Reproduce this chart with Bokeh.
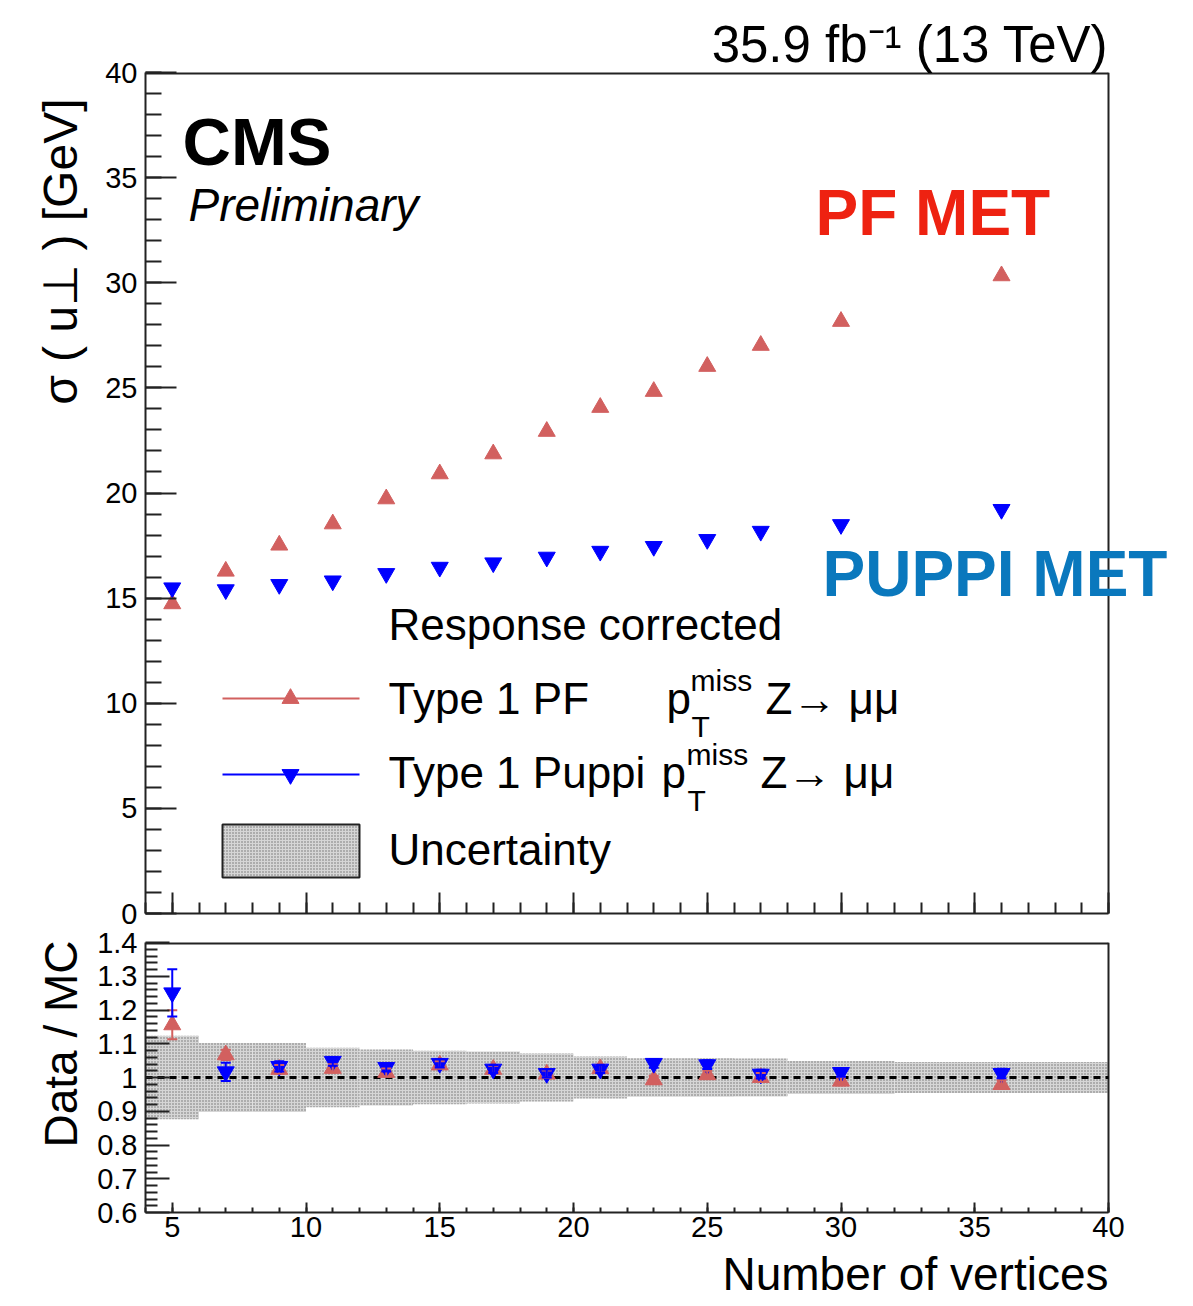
import math
import numpy as np
from bokeh.plotting import figure
from bokeh.layouts import column
from bokeh.models import (Range1d, SingleIntervalTicker, FixedTicker, Label, Title,
                          Whisker, TeeHead, ColumnDataSource, CustomJSTickFormatter)
from bokeh.embed import file_html
from bokeh.resources import INLINE

# ---------------- data ----------------
n_vertices = [5, 7, 9, 11, 13, 15, 17, 19, 21, 23, 25, 27, 30, 36]
sigma_pf = [14.73, 16.28, 17.52, 18.53, 19.72, 20.91, 21.86, 22.93, 24.07, 24.83, 26.02, 27.02, 28.16, 30.33]
sigma_puppi = [15.49, 15.40, 15.65, 15.82, 16.17, 16.47, 16.68, 16.95, 17.23, 17.46, 17.79, 18.18, 18.50, 19.22]

ratio_pf = [1.156, 1.067, 1.024, 1.027, 1.015, 1.037, 1.024, 1.010, 1.026, 0.993, 1.008, 1.000, 0.989, 0.979]
ratio_pf_err = [0.043, 0.015, 0.013, 0.012, 0.012, 0.011, 0.011, 0.011, 0.012, 0.012, 0.012, 0.013, 0.012, 0.013]
ratio_puppi = [1.251, 1.017, 1.033, 1.048, 1.030, 1.042, 1.025, 1.012, 1.025, 1.042, 1.038, 1.010, 1.015, 1.012]
ratio_puppi_err = [0.070, 0.027, 0.015, 0.013, 0.012, 0.012, 0.012, 0.012, 0.012, 0.013, 0.013, 0.013, 0.013, 0.014]

band_edges = [4, 6, 8, 10, 12, 14, 16, 18, 20, 22, 24, 26, 28, 32, 40]
band_unc = [0.124, 0.102, 0.102, 0.088, 0.083, 0.079, 0.077, 0.071, 0.062, 0.057, 0.057, 0.056, 0.049, 0.046]

ratio_ticks = [0.6, 0.7, 0.8, 0.9, 1.0, 1.1, 1.2, 1.3, 1.4]

# ---------------- layout constants ----------------
W = 1193
FL, FR = 145, 1108          # visible box left / right (px)
FT, FB = 72, 913            # top box top / bottom (px)
RT, RB = 942, 1212          # ratio box top / bottom (px)
H_TOTAL = 1306
XMIN, XMAX = 4, 40
YMIN, YMAX = 0, 40
RMIN, RMAX = 0.6, 1.4
PXU = (FR - FL) / (XMAX - XMIN)   # px per x unit
XMAX_EXT = XMAX + (W - FR) / PXU  # frames run to the canvas edge (texts are not cut)
FONT = "Liberation Sans"
RED_MK = "#d2605f"
BLUE_MK = "#0000ff"
FRAME_C = "#222222"
BAND_FILL = "#d6d6d6"
BAND_DOT = "#707070"
BASE_SHIFT = 0.38   # Label alphabetic baseline correction (em)


def xd(px):
    return XMIN + (px - FL) / PXU


def yd(py):
    return YMIN + (FB - py) * (YMAX - YMIN) / (FB - FT)


def style_axes(p):
    p.xgrid.visible = False
    p.ygrid.visible = False
    p.background_fill_color = "white"
    p.border_fill_color = "white"
    p.outline_line_color = None
    p.min_border_left = FL
    p.min_border_right = 0
    for ax in (p.xaxis[0], p.yaxis[0]):
        ax.axis_line_width = 2
        ax.axis_line_color = FRAME_C
        ax.major_tick_line_width = 2
        ax.minor_tick_line_width = 2
        ax.major_tick_line_color = FRAME_C
        ax.minor_tick_line_color = FRAME_C
        ax.major_tick_out = 0
        ax.minor_tick_out = 0
        ax.major_label_text_font = FONT
        ax.major_label_text_color = "black"
    p.xaxis.bounds = (XMIN, XMAX)
    p.xaxis.ticker = SingleIntervalTicker(interval=5, num_minor_ticks=5)


def add_title(fig, text, size, loc, align, offset=0, standoff=10, style_="normal"):
    fig.add_layout(Title(text=text, align=align, offset=offset, standoff=standoff,
                         text_font=FONT, text_font_size=f"{size}px",
                         text_font_style=style_, text_color="black"), loc)


def lab(p, x_px, base_py, text, size, color="black", style_="normal", align="left"):
    p.add_layout(Label(x=xd(x_px), y=yd(base_py - BASE_SHIFT * size), text=text,
                       text_font=FONT, text_font_size=f"{size}px",
                       text_color=color, text_font_style=style_, text_align=align,
                       text_baseline="alphabetic"))


# ---------------- top panel ----------------
top_h = FB + 15
p = figure(width=W, height=top_h, output_backend="svg", toolbar_location=None,
           x_range=Range1d(XMIN, XMAX_EXT), y_range=Range1d(YMIN, YMAX))
style_axes(p)
p.min_border_top = FT
p.min_border_bottom = top_h - FB
p.xaxis.formatter = CustomJSTickFormatter(code="return '';")
p.xaxis.major_label_text_font_size = "1px"
p.xaxis.major_label_standoff = 0
p.xaxis.major_tick_in = 21
p.xaxis.minor_tick_in = 11
p.yaxis.ticker = SingleIntervalTicker(interval=5, num_minor_ticks=5)
p.yaxis.major_label_text_font_size = "29px"
p.yaxis.major_label_standoff = 8
p.yaxis.major_tick_in = 31
p.yaxis.minor_tick_in = 16

# box borders (top and right)
p.segment(x0=[XMIN, XMAX], y0=[YMAX, YMIN], x1=[XMAX, XMAX], y1=[YMAX, YMAX],
          line_color=FRAME_C, line_width=[4, 2])

src_top = ColumnDataSource(dict(x=n_vertices, pf=sigma_pf, puppi=sigma_puppi))
p.scatter("x", "pf", source=src_top, marker="triangle", size=17,
          fill_color=RED_MK, line_color=RED_MK)
p.scatter("x", "puppi", source=src_top, marker="inverted_triangle", size=17,
          fill_color=BLUE_MK, line_color=BLUE_MK)

# titles outside the box
p.title.text = "35.9 fb⁻¹ (13 TeV)"
p.title.align = "right"
p.title.offset = W - FR
p.title.standoff = 0
p.title.text_font = FONT
p.title.text_font_size = "51px"
p.title.text_font_style = "normal"
p.title.text_color = "black"
add_title(p, "σ ( u⊥ ) [GeV]", 48, "left", "right", offset=26, standoff=32)

# in-box texts
lab(p, 182, 166, "CMS", 67, style_="bold")
lab(p, 188, 222, "Preliminary", 46, style_="italic")
lab(p, 815, 237, "PF MET", 64, color="#ee2211", style_="bold")
lab(p, 822, 598, "PUPPI MET", 64, color="#0a78bd", style_="bold")

# legend
LEG_FS = 44
SUB_FS = 30
lab(p, 388, 641, "Response corrected", LEG_FS)
p.line([xd(222), xd(359)], [yd(698), yd(698)], line_color=RED_MK, line_width=2)
p.scatter([xd(290)], [yd(698)], marker="triangle", size=17, fill_color=RED_MK, line_color=RED_MK)
lab(p, 388, 715, "Type 1 PF", LEG_FS)
lab(p, 666, 715, "p", LEG_FS)
lab(p, 690, 691, "miss", SUB_FS)
lab(p, 691, 737, "T", SUB_FS)
lab(p, 765, 715, "Z→ μμ", LEG_FS)
p.line([xd(222), xd(359)], [yd(774), yd(774)], line_color=BLUE_MK, line_width=2)
p.scatter([xd(290)], [yd(774)], marker="inverted_triangle", size=17, fill_color=BLUE_MK, line_color=BLUE_MK)
lab(p, 388, 789, "Type 1 Puppi", LEG_FS)
lab(p, 661, 789, "p", LEG_FS)
lab(p, 686, 765, "miss", SUB_FS)
lab(p, 687, 811, "T", SUB_FS)
lab(p, 760, 789, "Z→ μμ", LEG_FS)
p.quad(left=[xd(222)], right=[xd(359)], bottom=[yd(877)], top=[yd(824)],
       fill_color=BAND_FILL, hatch_pattern="dot", hatch_color=BAND_DOT, hatch_scale=3,
       hatch_weight=1, line_color=FRAME_C, line_width=2)
lab(p, 388, 866, "Uncertainty", LEG_FS)

# ---------------- ratio panel ----------------
r_top = RT - top_h
r_h = H_TOTAL - top_h
r = figure(width=W, height=r_h, output_backend="svg", toolbar_location=None,
           x_range=Range1d(XMIN, XMAX_EXT), y_range=Range1d(RMIN, RMAX))
style_axes(r)
r.min_border_top = r_top
r.min_border_bottom = H_TOTAL - RB
r.xaxis.major_label_text_font_size = "29px"
r.xaxis.major_label_standoff = 4
r.xaxis.major_tick_in = 10
r.xaxis.minor_tick_in = 5
minor_r = [round(v, 2) for v in np.arange(0.62, 1.40, 0.02) if round(v * 100) % 10 != 0]
r.yaxis.ticker = FixedTicker(ticks=ratio_ticks, minor_ticks=minor_r)
r.yaxis.formatter = CustomJSTickFormatter(code="return (Math.round(tick*10)/10).toString();")
r.yaxis.major_label_text_font_size = "29px"
r.yaxis.major_label_standoff = 8
r.yaxis.major_tick_in = 24
r.yaxis.minor_tick_in = 12

band_src = ColumnDataSource(dict(
    left=band_edges[:-1], right=band_edges[1:],
    bottom=[1 - u for u in band_unc], top=[1 + u for u in band_unc]))
r.quad(left="left", right="right", bottom="bottom", top="top", source=band_src,
       fill_color=BAND_FILL, hatch_pattern="dot", hatch_color=BAND_DOT, hatch_scale=3,
       hatch_weight=1, line_color=None)

# box borders (top and right)
r.segment(x0=[XMIN, XMAX], y0=[RMAX, RMIN], x1=[XMAX, XMAX], y1=[RMAX, RMAX],
          line_color=FRAME_C, line_width=[4, 2])
# reference line at 1
r.line([XMIN, XMAX], [1.0, 1.0], line_color="black", line_width=3, line_dash="7 5")

src_r = ColumnDataSource(dict(
    x=n_vertices, pf=ratio_pf, puppi=ratio_puppi,
    pf_lo=[v - e for v, e in zip(ratio_pf, ratio_pf_err)],
    pf_hi=[v + e for v, e in zip(ratio_pf, ratio_pf_err)],
    pu_lo=[v - e for v, e in zip(ratio_puppi, ratio_puppi_err)],
    pu_hi=[v + e for v, e in zip(ratio_puppi, ratio_puppi_err)]))
r.add_layout(Whisker(base="x", lower="pf_lo", upper="pf_hi", source=src_r,
                     line_color=RED_MK, line_width=2, level="glyph",
                     upper_head=TeeHead(size=10, line_color=RED_MK, line_width=2),
                     lower_head=TeeHead(size=10, line_color=RED_MK, line_width=2)))
r.scatter("x", "pf", source=src_r, marker="triangle", size=17, fill_color=RED_MK, line_color=RED_MK)
r.add_layout(Whisker(base="x", lower="pu_lo", upper="pu_hi", source=src_r,
                     line_color=BLUE_MK, line_width=2, level="glyph",
                     upper_head=TeeHead(size=10, line_color=BLUE_MK, line_width=2),
                     lower_head=TeeHead(size=10, line_color=BLUE_MK, line_width=2)))
r.scatter("x", "puppi", source=src_r, marker="inverted_triangle", size=17,
          fill_color=BLUE_MK, line_color=BLUE_MK)

add_title(r, "Data / MC", 46, "left", "right", offset=-2, standoff=15)
add_title(r, "Number of vertices", 46, "below", "right", offset=W - FR, standoff=13)

layout = column(p, r)
open("out.html", "w").write(file_html(layout, INLINE))
